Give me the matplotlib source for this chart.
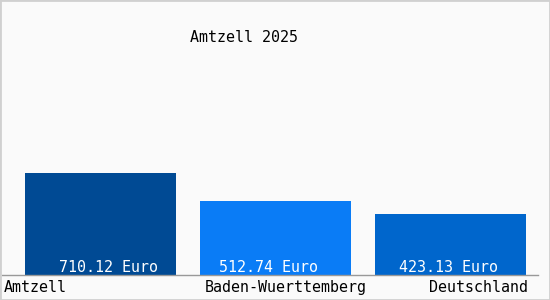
import matplotlib.pyplot as plt
import matplotlib.patches as mpatches
import matplotlib.transforms as mtransforms

categories = ["Amtzell", "Baden-Wuerttemberg", "Deutschland"]
values = [710.12, 512.74, 423.13]
value_labels = ["710.12 Euro", "512.74 Euro", "423.13 Euro"]
title = "Amtzell 2025"

colors = ["#004a94", "#0a7cf6", "#0066cc"]
label_shift = [0.05, -0.04, -0.01]  # small offsets of the value labels, in bar units

plt.rcParams['font.family'] = ['DejaVu Sans Mono']
FS = 10.8

W, H = 550, 300
fig = plt.figure(figsize=(W / 100, H / 100), dpi=100)
fig.patch.set_facecolor("#fafafa")

# axes spans full width; bottom at baseline, top at the tallest bar
ax = fig.add_axes([0, 25 / H, 1, 102 / H])
ax.set_facecolor("none")
x = list(range(len(categories)))
ax.bar(x, values, width=151 / 175, color=colors)
ax.set_xlim(-100.25 / 175, (W - 100.25) / 175)
ax.set_ylim(0, max(values))
ax.axis("off")

trans = mtransforms.blended_transform_factory(ax.transData, ax.transAxes)
for i, lab in enumerate(value_labels):
    ax.text(x[i] + label_shift[i], 0.075, lab, transform=trans, color="white",
            ha="center", va="center", fontsize=FS)

# baseline
ax.plot([2 / W, 538 / W], [0, 0], transform=ax.transAxes, color="#999999",
        lw=1, clip_on=False)

# category labels
half = 151 / 175 / 2
ax.text(4 / W, -0.127, categories[0], transform=ax.transAxes, ha="left",
        va="center", fontsize=FS, color="black")
ax.text(x[1] - half + 5 / 175, -0.127, categories[1], transform=trans,
        ha="left", va="center", fontsize=FS, color="black")
ax.text(x[2] + half + 2 / 175, -0.127, categories[2], transform=trans,
        ha="right", va="center", fontsize=FS, color="black")

fig.text(243.5 / W, 1 - 37.5 / H, title, ha="center", va="center",
         fontsize=FS, color="black")

fig.patches.append(mpatches.Rectangle((0, 0), 1, 1, transform=fig.transFigure,
                                      fill=False, edgecolor="#d0d0d0", lw=2))

fig.savefig("out.png", dpi=100, facecolor=fig.get_facecolor())
